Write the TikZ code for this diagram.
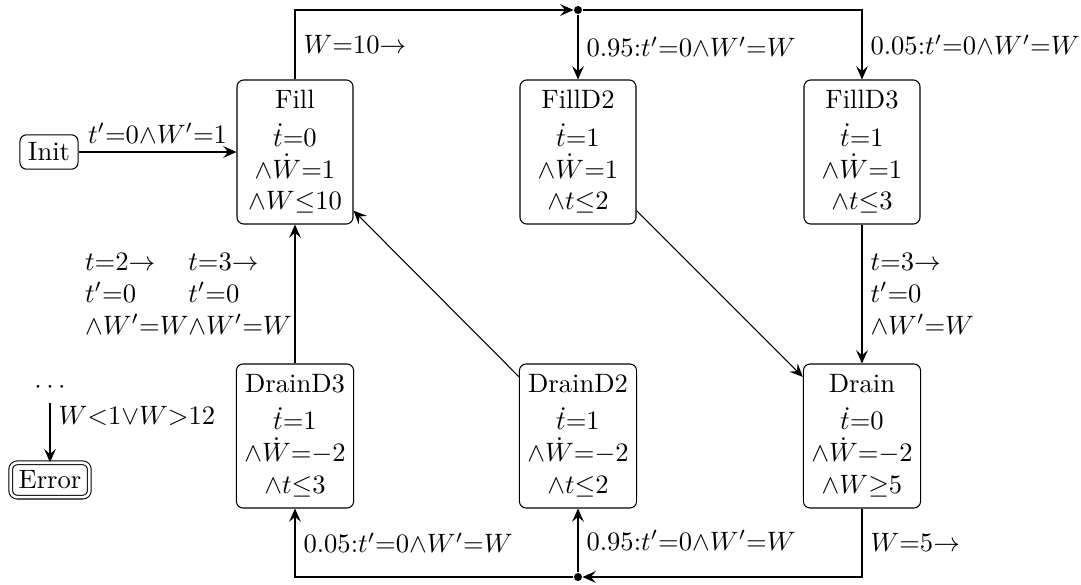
\documentclass[tikz,border=0pt]{standalone}
\usetikzlibrary{arrows.meta}
\newdimen\pxunit
\pxunit=0.376pt
\begin{document}
\begin{tikzpicture}[x=\pxunit,y=-\pxunit,
  >={Stealth[length=5pt,width=4.4pt,inset=1.9pt]},
  state/.style={draw, rounded corners=2.5pt, align=center, inner sep=3pt,
    minimum width=116\pxunit, minimum height=144\pxunit},
  plain/.style={draw, rounded corners=2.5pt, inner sep=3pt},
  junction/.style={circle, fill, inner sep=0pt, minimum size=3pt},
  lbl/.style={inner sep=3pt},
  ml/.style={align=left, inner sep=3pt}]
\path[use as bounding box] (0,0) rectangle (1081,585);

% locations
\node[plain] (init) at (49,152) {Init};
\node[state] (fill) at (295,152) {Fill\\[2pt] $\dot t{=}0$\\ ${\wedge}\dot W{=}1$\\ ${\wedge}W{\leq}10$};
\node[state] (filld2) at (578,152) {FillD2\\[2pt] $\dot t{=}1$\\ ${\wedge}\dot W{=}1$\\ ${\wedge}t{\leq}2$};
\node[state] (filld3) at (862,152) {FillD3\\[2pt] $\dot t{=}1$\\ ${\wedge}\dot W{=}1$\\ ${\wedge}t{\leq}3$};
\node[state] (draind3) at (295,436) {DrainD3\\[2pt] $\dot t{=}1$\\ ${\wedge}\dot W{=}{-}2$\\ ${\wedge}t{\leq}3$};
\node[state] (draind2) at (578,436) {DrainD2\\[2pt] $\dot t{=}1$\\ ${\wedge}\dot W{=}{-}2$\\ ${\wedge}t{\leq}2$};
\node[state] (drain) at (862,436) {Drain\\[2pt] $\dot t{=}0$\\ ${\wedge}\dot W{=}{-}2$\\ ${\wedge}W{\geq}5$};
\node (dots) at (50,388) {$\cdots$};
\node[plain, double, double distance=1pt] (error) at (50,480) {Error};

% probabilistic branching points
\node[junction] (topdot) at (578,10) {};
\node[junction] (botdot) at (578,577) {};

% transitions
\draw[->] (init) -- node[above, lbl] {$t'{=}0{\wedge}W'{=}1$} (fill);

\draw[->] (fill.north) |- node[right, pos=0.25, lbl] {$W{=}10{\rightarrow}$} (topdot);
\draw[->] (topdot) -- node[right, lbl] {$0.95{:}t'{=}0{\wedge}W'{=}W$} (filld2);
\draw[->] (topdot) -| node[right, pos=0.75, lbl] {$0.05{:}t'{=}0{\wedge}W'{=}W$} (filld3);

\draw[->] (filld2) -- (drain);
\draw[->] (filld3) -- node[right, ml] {$t{=}3{\rightarrow}$\\ $t'{=}0$\\ ${\wedge}W'{=}W$} (drain);

\draw[->] (drain.south) |- node[right, pos=0.25, lbl] {$W{=}5{\rightarrow}$} (botdot);
\draw[->] (botdot) -- node[right, lbl] {$0.95{:}t'{=}0{\wedge}W'{=}W$} (draind2);
\draw[->] (botdot) -| node[right, pos=0.75, lbl] {$0.05{:}t'{=}0{\wedge}W'{=}W$} (draind3);

\draw[->] (draind2) -- (fill);
\draw[->] (draind3) -- node[left, ml, inner sep=1pt] (g3) {$t{=}3{\rightarrow}$\\ $t'{=}0$\\ ${\wedge}W'{=}W$} (fill);
\node[left, ml, inner sep=0pt, xshift=1.5pt] (g2) at (g3.west) {$t{=}2{\rightarrow}$\\ $t'{=}0$\\ ${\wedge}W'{=}W$};

\draw[->] (dots) -- node[right, pos=0.22, lbl] {$W{<}1{\vee}W{>}12$} (error);
\end{tikzpicture}
\end{document}
